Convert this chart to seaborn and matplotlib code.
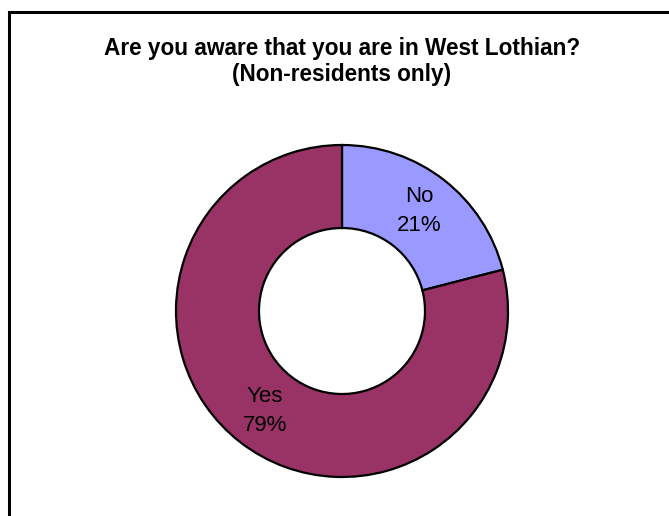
import numpy as np
import matplotlib
matplotlib.use("Agg")
import matplotlib.pyplot as plt
from matplotlib.patches import Rectangle
import seaborn as sns

# Survey answers and their shares (percent)
answers = ["No", "Yes"]
shares = [21, 79]
slice_colors = ["#9999FF", "#993366"]
title_lines = ["Are you aware that you are in West Lothian?", "(Non-residents only)"]

sns.set_theme(style="white")
plt.rcParams["font.family"] = ["Liberation Sans", "DejaVu Sans"]

W, H = 669, 516
fig = plt.figure(figsize=(W / 100, H / 100), dpi=100)
fig.patch.set_facecolor("white")

# Frame around the chart area (extends past the right and bottom edges)
fig.patches.append(Rectangle((8.5 / W, -0.1), 1.2, (H - 11.5) / H + 0.1,
                             transform=fig.transFigure, fill=False,
                             edgecolor="black", linewidth=2.2))

# Donut placement: centre (342, 311) px, outer radius 166 px
cx, cy, r = 342, 311, 166
ax = fig.add_axes([(cx - r) / W, (H - cy - r) / H, 2 * r / W, 2 * r / H])
wedges, _ = ax.pie(shares, colors=slice_colors, startangle=90, counterclock=False,
                   radius=1.0, wedgeprops=dict(width=0.5, edgecolor="black",
                                               linewidth=1.6))
for w in wedges:
    w.set_clip_on(False)
ax.set_xlim(-1, 1)
ax.set_ylim(-1, 1)
ax.set_aspect("auto")
ax.axis("off")

# Category and percent labels at each slice's mid-angle
label_dist = 0.76
theta0 = 90.0
for name, val in zip(answers, shares):
    mid = np.deg2rad(theta0 - val * 360 / 100 / 2)
    ax.text(label_dist * np.cos(mid), label_dist * np.sin(mid), f"{name}\n{val}%",
            ha="center", va="center", fontsize=16, color="black",
            linespacing=1.5)
    theta0 -= val * 360 / 100

fig.text(cx / W, 1 - 49 / H, title_lines[0], ha="center", va="center",
         fontsize=16.3, fontweight="bold", color="black")
fig.text(cx / W, 1 - 75 / H, title_lines[1], ha="center", va="center",
         fontsize=16.3, fontweight="bold", color="black")

fig.savefig("out.png", dpi=100, facecolor="white")
